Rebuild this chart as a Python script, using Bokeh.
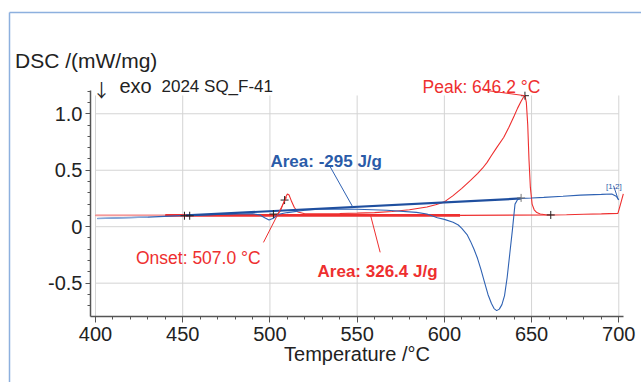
import numpy as np
from bokeh.plotting import figure
from bokeh.models import Label, FixedTicker, Range1d
from bokeh.embed import file_html
from bokeh.resources import INLINE

# ---------------- data ----------------
temp_red = [400, 420, 440, 460, 480, 500, 504, 506, 507.5, 509, 510, 511, 512.5, 514, 516, 520,
            530, 540, 550, 560, 570, 580, 590, 595, 600, 605, 610, 615, 619, 622, 624.5, 627,
            630, 634, 637, 640, 642, 644, 645.5, 646.2, 647, 647.8, 648.5, 649.3, 650.3, 651.5,
            653, 655, 658, 662, 670, 680, 690, 699.5, 701, 702.6]
dsc_red = [0.10, 0.10, 0.10, 0.10, 0.10, 0.10, 0.105, 0.14, 0.20, 0.26, 0.29, 0.28, 0.22, 0.17, 0.13, 0.115,
           0.115, 0.117, 0.12, 0.125, 0.135, 0.15, 0.175, 0.195, 0.22, 0.275, 0.34, 0.41, 0.47, 0.52, 0.57, 0.63,
           0.70, 0.79, 0.88, 0.98, 1.05, 1.11, 1.15, 1.16, 1.10, 0.90, 0.60, 0.35, 0.20, 0.15,
           0.125, 0.113, 0.106, 0.104, 0.106, 0.11, 0.114, 0.118, 0.20, 0.29]

temp_blue = [401, 430, 452, 475, 490, 494, 497, 499.5, 502, 505, 510, 520, 530, 550, 567, 584, 590,
             596, 600, 605, 608, 610, 613, 615, 617, 619, 621, 623, 625, 627, 628.5, 630, 631.5,
             633, 634.5, 636, 637.5, 639, 640.5, 642, 644, 650, 657, 668, 678, 690, 696, 698.5, 700]
dsc_blue = [0.073, 0.085, 0.10, 0.11, 0.115, 0.105, 0.08, 0.06, 0.075, 0.11, 0.125, 0.145, 0.158, 0.155, 0.145, 0.127, 0.112,
            0.08, 0.065, 0.04, 0.015, -0.015, -0.07, -0.13, -0.20, -0.28, -0.38, -0.49, -0.60, -0.68, -0.725, -0.743, -0.73,
            -0.69, -0.61, -0.45, -0.24, -0.03, 0.20, 0.24, 0.25, 0.254, 0.26, 0.27, 0.28, 0.286, 0.29, 0.27, 0.236]

red_base_temp = [440, 609]
red_base_dsc = [0.10, 0.10]
red_base2_temp = [609, 661]
red_base2_dsc = [0.10, 0.104]
blue_base_temp = [452, 644]
blue_base_dsc = [0.10, 0.25]

marker_temp = [451, 454, 502, 508.4, 646.2, 661]
marker_dsc = [0.097, 0.097, 0.112, 0.236, 1.16, 0.104]
marker2_temp = [644]
marker2_dsc = [0.255]

x_tick_values = [400, 450, 500, 550, 600, 650, 700]
y_tick_values = [-0.5, 0, 0.5, 1.0]
y_tick_labels = ["-0.5", "0", "0.5", "1.0"]
x_axis_bounds = (397.13, 702.7)
y_axis_bounds = (-0.795, 1.206)
grid_top = 1.162

RED = "#ee2f2f"
PINK = "#f49a9a"
BLUE = "#2f62b3"
DBLUE = "#1f4f9f"
LBLUE = "#86a8d8"
TXTBLUE = "#2a5ba8"
FRAMEBLUE = "#8db0de"
GRID = "#d4d4d4"
AXIS = "#555555"
FONT = "Liberation Sans"

W, H = 641, 382
PX_PER_DEG = 1.7443
PX_PER_UNIT = 112.93
X0_PX, Y0_PX = 95.0, 226.2   # page pixel of (400 °C, 0 mW/mg)
# the plot frame covers the whole canvas; axes are pinned at fixed locations
p = figure(width=W, height=H, output_backend="svg", toolbar_location=None,
           x_range=Range1d(400 - X0_PX / PX_PER_DEG, 400 + (W - X0_PX) / PX_PER_DEG),
           y_range=Range1d((Y0_PX - H) / PX_PER_UNIT, Y0_PX / PX_PER_UNIT),
           min_border_left=0, min_border_right=0, min_border_top=0, min_border_bottom=0)
p.title.visible = False
p.outline_line_color = None
p.extra_x_ranges = {"px": Range1d(0, W)}
p.extra_y_ranges = {"py": Range1d(H, 0)}

p.xaxis.fixed_location = y_axis_bounds[0]
p.yaxis.fixed_location = x_axis_bounds[0]
p.xaxis.bounds = x_axis_bounds
p.yaxis.bounds = y_axis_bounds
p.xaxis.ticker = FixedTicker(ticks=x_tick_values, minor_ticks=list(np.arange(400, 701, 10)))
p.yaxis.ticker = FixedTicker(ticks=y_tick_values, minor_ticks=list(np.round(np.arange(-0.7, 1.21, 0.1), 2)))
p.yaxis.major_label_overrides = {v: s for v, s in zip(y_tick_values, y_tick_labels)}

for ax in (p.xaxis[0], p.yaxis[0]):
    ax.axis_line_color = AXIS
    ax.axis_line_width = 1.5
    ax.major_tick_line_color = AXIS
    ax.minor_tick_line_color = AXIS
    ax.major_tick_in = 0
    ax.minor_tick_in = 0
    ax.major_label_text_font = FONT
    ax.major_label_text_font_size = "20px"
    ax.major_label_text_color = "#222222"
p.xaxis.major_tick_out = 6
p.xaxis.minor_tick_out = 3
p.yaxis.major_tick_out = 5
p.yaxis.minor_tick_out = 3
p.xaxis.major_label_standoff = 5
p.yaxis.major_label_standoff = 3
p.xaxis.axis_label = "Temperature /°C"
p.xaxis.axis_label_text_font = FONT
p.xaxis.axis_label_text_font_size = "20px"
p.xaxis.axis_label_text_font_style = "normal"
p.xaxis.axis_label_text_color = "#222222"
p.xaxis.axis_label_standoff = -2

# grid lines limited to the data area, as in the reference
p.grid.visible = False
p.segment(x0=x_tick_values, y0=[y_axis_bounds[0]] * len(x_tick_values),
          x1=x_tick_values, y1=[grid_top] * len(x_tick_values),
          line_color=GRID, line_width=1)
p.segment(x0=[x_tick_values[0]] * len(y_tick_values), y0=y_tick_values,
          x1=[x_tick_values[-1]] * len(y_tick_values), y1=y_tick_values,
          line_color=GRID, line_width=1)

# panel border (page pixel coordinates)
p.segment(x0=[9, 9], y0=[12, 12], x1=[W + 5, 9], y1=[12, H + 5], line_color=FRAMEBLUE, line_width=1.5,
          x_range_name="px", y_range_name="py")

# ---------------- curves ----------------
tr = np.array(temp_red); dr = np.array(dsc_red)
tb = np.array(temp_blue); db = np.array(dsc_blue)

p.line(temp_red, dsc_red, line_color=RED, line_width=1.1)
m = tr <= 450
p.line(tr[m], dr[m], line_color=PINK, line_width=1.5)
p.line(red_base_temp, red_base_dsc, line_color=RED, line_width=2.6)
p.line(red_base2_temp, red_base2_dsc, line_color=RED, line_width=1.1)

p.line(temp_blue, dsc_blue, line_color=BLUE, line_width=1.1)
m = tb <= 450
p.line(tb[m], db[m], line_color=LBLUE, line_width=1.5)
p.line(blue_base_temp, blue_base_dsc, line_color=DBLUE, line_width=2.2)

p.scatter(marker_temp, marker_dsc, marker="cross", size=8, line_color="#222222", line_width=1)
p.scatter(marker2_temp, marker2_dsc, marker="cross", size=8, line_color="#777777", line_width=1)

leaders = [
    ([622.4, 646.2], [1.21, 1.16], RED),
    ([496.3, 509.5], [-0.139, 0.26], RED),
    ([563.2, 557.5], [-0.227, 0.112], RED),
    ([534.2, 547.4], [0.54, 0.177], BLUE),
    ([697.0, 699.7], [0.363, 0.239], BLUE),
]
for xs, ys, c in leaders:
    p.line(xs, ys, line_color=c, line_width=1)

# ---------------- texts ----------------
header_texts = [  # page pixel positions (left, baseline)
    ("DSC /(mW/mg)", 14.5, 60, "21px", "#222222", FONT),
    ("\u2193", 92, 88, "18px", "#222222", "Noto Sans CJK JP"),
    ("exo", 119, 85, "20px", "#222222", FONT),
    ("2024 SQ_F-41", 161, 86, "17px", "#222222", FONT),
    ("Peak: 646.2 °C", 422, 86, "17.5px", RED, FONT),
]
for t, x, y, fs, c, f in header_texts:
    p.add_layout(Label(x=x, y=y, x_range_name="px", y_range_name="py", text=t, text_font=f,
                       text_font_size=fs, text_color=c,
                       text_align="left", text_baseline="alphabetic"))

texts = [  # data positions (left, baseline)
    ("Onset: 507.0 °C", 423.2, -0.274, "17.5px", "normal", RED),
    ("Area: -295 J/g", 500.3, 0.58, "17px", "bold", TXTBLUE),
    ("Area: 326.4 J/g", 527.3, -0.396, "17px", "bold", RED),
    ("[1.2]", 692.7, 0.354, "8px", "normal", TXTBLUE),
]
for t, x, y, fs, st, c in texts:
    p.add_layout(Label(x=x, y=y, text=t, text_font=FONT, text_font_size=fs,
                       text_font_style=st, text_color=c, text_align="left", text_baseline="alphabetic"))

open("out.html", "w").write(file_html(p, INLINE))
